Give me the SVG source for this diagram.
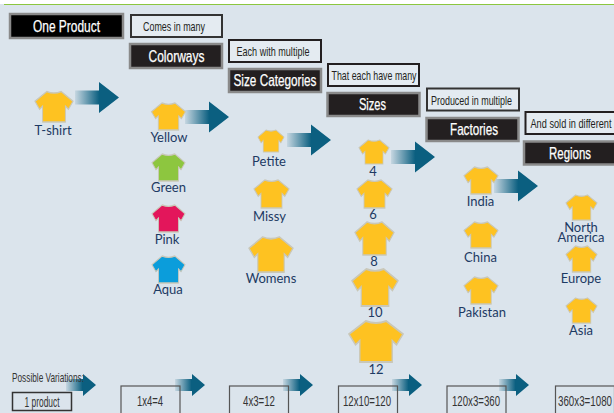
<svg xmlns="http://www.w3.org/2000/svg" width="614" height="413" viewBox="0 0 614 413">
<style>
.hd{fill:#231f20;stroke:#8a8a8a;stroke-width:2.5}
.sb{fill:#e4ebf1;stroke:#231f20;stroke-width:2}
.vb{fill:none;stroke:#555;stroke-width:1.2}
.pb{fill:none;stroke:#333;stroke-width:1.5}
.ht{font:16.500px "Liberation Sans",Arial,sans-serif;fill:#fff;stroke:#fff;stroke-width:.25;text-anchor:middle}
.st{font:13.500px "Liberation Sans",Arial,sans-serif;fill:#231f20;text-anchor:middle}
.vt{font:14px "Liberation Sans",Arial,sans-serif;fill:#333;text-anchor:middle}
.lb{font:13px Lato,"Noto Sans",Arial,sans-serif;fill:#1d3a63;text-anchor:middle}
.y{fill:#fec221}.g{fill:#8dc63f}.p{fill:#e3165b}.a{fill:#0b9ddb}
.tee{stroke:#c9c7b8;stroke-width:.05}
</style>
<defs>
<linearGradient id="fade"><stop offset="0" stop-color="#0b5f80" stop-opacity=".1"/><stop offset=".55" stop-color="#0b5f80"/></linearGradient>
<path id="t" d="M-.38,0Q0,.1.38,0L1,.32.76,.58.6,.48.6,1-.6,1-.6,.48-.76,.58-1,.32Z"/>
<path id="ar" d="M0,-7H24V-15.500L44,0 24,15.500V7H0Z"/>
<path id="as" d="M0,-6H17V-11L30,0 17,11V6H0Z"/>
</defs>
<rect width="614" height="413" fill="#dbe4ec"/>
<rect width="614" height="4" fill="#fff"/>
<rect x="4" y="4" width="610" height="1" fill="#8cc63f"/>

<g id="header-one-product"><rect class="hd" x="10" y="14" width="113" height="24" style="fill:#000"/><text class="ht" x="66.500" y="31.500" textLength="67" lengthAdjust="spacingAndGlyphs">One Product</text></g>
<g id="note-colorways"><rect class="sb" x="131" y="15" width="91" height="22" style="stroke:#333"/><text class="st" x="174" y="31" textLength="62" lengthAdjust="spacingAndGlyphs">Comes in many</text></g>
<g id="header-colorways"><rect class="hd" x="130" y="44" width="92" height="24"/><text class="ht" x="176.500" y="61.500" textLength="56" lengthAdjust="spacingAndGlyphs">Colorways</text></g>
<g id="note-sizes"><rect class="sb" x="229" y="40" width="92" height="22"/><text class="st" x="273" y="55.500" textLength="73" lengthAdjust="spacingAndGlyphs">Each with multiple</text></g>
<g id="header-size-categories"><rect class="hd" x="229" y="69" width="92" height="23"/><text class="ht" x="275" y="86" textLength="83" lengthAdjust="spacingAndGlyphs">Size Categories</text></g>
<g id="note-each"><rect class="sb" x="328" y="64" width="91" height="22"/><text class="st" x="374" y="80" textLength="85" lengthAdjust="spacingAndGlyphs">That each have many</text></g>
<g id="header-sizes"><rect class="hd" x="327.500" y="93" width="92" height="23"/><text class="ht" x="372.500" y="110" textLength="27" lengthAdjust="spacingAndGlyphs">Sizes</text></g>
<g id="note-produced"><rect class="sb" x="427" y="88.500" width="92" height="22" style="stroke:#333"/><text class="st" x="471.500" y="104.500" textLength="81" lengthAdjust="spacingAndGlyphs">Produced in multiple</text></g>
<g id="header-factories"><rect class="hd" x="426.500" y="118" width="92" height="23"/><text class="ht" x="474" y="134.500" textLength="48" lengthAdjust="spacingAndGlyphs">Factories</text></g>
<g id="note-sold"><rect class="sb" x="525.500" y="112" width="92" height="22"/><text class="st" x="571" y="128" textLength="81" lengthAdjust="spacingAndGlyphs">And sold in different</text></g>
<g id="header-regions"><rect class="hd" x="524" y="141.500" width="95" height="23"/><text class="ht" x="570" y="158.500" textLength="42" lengthAdjust="spacingAndGlyphs">Regions</text></g>

<g id="connectors" fill="url(#fade)">
<use href="#ar" x="75" y="97.500"/>
<use href="#ar" x="185" y="117"/>
<use href="#ar" x="287" y="140"/>
<use href="#ar" x="391" y="157"/>
<use href="#ar" x="494" y="186"/>
<use href="#as" x="66" y="385"/>
<use href="#as" x="175" y="385"/>
<use href="#as" x="283" y="385"/>
<use href="#as" x="392" y="385"/>
<use href="#as" x="499" y="385"/>
</g>

<g id="tshirt"><use href="#t" class="tee y" transform="translate(54,91.500) scale(19,30.500)"/><text class="lb" x="53" y="135">T-shirt</text></g>
<g id="yellow"><use href="#t" class="tee y" transform="translate(168.500,103) scale(17,27)"/><text class="lb" x="169" y="142">Yellow</text></g>
<g id="green"><use href="#t" class="tee g" transform="translate(168.500,154) scale(16.500,27)"/><text class="lb" x="168.500" y="192">Green</text></g>
<g id="pink"><use href="#t" class="tee p" transform="translate(168.500,205) scale(16.500,27)"/><text class="lb" x="167" y="244">Pink</text></g>
<g id="aqua"><use href="#t" class="tee a" transform="translate(168.500,256) scale(16.500,27)"/><text class="lb" x="168" y="294">Aqua</text></g>
<g id="petite"><use href="#t" class="tee y" transform="translate(271,130) scale(13,22)"/><text class="lb" x="269" y="166">Petite</text></g>
<g id="missy"><use href="#t" class="tee y" transform="translate(271.500,180) scale(17.500,28)"/><text class="lb" x="269.500" y="221">Missy</text></g>
<g id="womens"><use href="#t" class="tee y" transform="translate(271,237) scale(22,35)"/><text class="lb" x="271" y="283">Womens</text></g>
<g id="size4"><use href="#t" class="tee y" transform="translate(374,140) scale(15,24)"/><text class="lb" x="373" y="176">4</text></g>
<g id="size6"><use href="#t" class="tee y" transform="translate(374.500,180) scale(17.500,28)"/><text class="lb" x="373" y="219">6</text></g>
<g id="size8"><use href="#t" class="tee y" transform="translate(374.500,222) scale(19.500,33)"/><text class="lb" x="374" y="266">8</text></g>
<g id="size10"><use href="#t" class="tee y" transform="translate(375,269) scale(23,37)"/><text class="lb" x="375" y="317">10</text></g>
<g id="size12"><use href="#t" class="tee y" transform="translate(376,321) scale(27,41)"/><text class="lb" x="376" y="374">12</text></g>
<g id="india"><use href="#t" class="tee y" transform="translate(481,167) scale(17,27)"/><text class="lb" x="480.500" y="206">India</text></g>
<g id="china"><use href="#t" class="tee y" transform="translate(481,222) scale(17,26)"/><text class="lb" x="480.500" y="262">China</text></g>
<g id="pakistan"><use href="#t" class="tee y" transform="translate(481,277) scale(17,27)"/><text class="lb" x="482" y="317">Pakistan</text></g>
<g id="north-america"><use href="#t" class="tee y" transform="translate(581.500,195) scale(15.500,25)"/><text class="lb" y="232"><tspan x="581">North</tspan><tspan x="581" y="242">America</tspan></text></g>
<g id="europe"><use href="#t" class="tee y" transform="translate(581.500,246) scale(15.500,26)"/><text class="lb" x="581" y="283">Europe</text></g>
<g id="asia"><use href="#t" class="tee y" transform="translate(581.500,298) scale(15.500,25)"/><text class="lb" x="581" y="335">Asia</text></g>

<g id="variations-label"><text class="st" x="12" y="382" style="text-anchor:start;fill:#333" textLength="72" lengthAdjust="spacingAndGlyphs">Possible Variations:</text></g>
<g id="var-1"><rect class="pb" x="12.500" y="392.500" width="59" height="18"/><text class="vt" x="42" y="407" textLength="35" lengthAdjust="spacingAndGlyphs">1 product</text></g>
<g id="var-2"><rect class="vb" x="121" y="386" width="59" height="40"/><text class="vt" x="150" y="406" textLength="26" lengthAdjust="spacingAndGlyphs">1x4=4</text></g>
<g id="var-3"><rect class="vb" x="229.500" y="386" width="59" height="40"/><text class="vt" x="259" y="406" textLength="32" lengthAdjust="spacingAndGlyphs">4x3=12</text></g>
<g id="var-4"><rect class="vb" x="338.500" y="386" width="59" height="40"/><text class="vt" x="367" y="406" textLength="48" lengthAdjust="spacingAndGlyphs">12x10=120</text></g>
<g id="var-5"><rect class="vb" x="447" y="386" width="59" height="40"/><text class="vt" x="476" y="406" textLength="48" lengthAdjust="spacingAndGlyphs">120x3=360</text></g>
<g id="var-6"><rect class="vb" x="555.500" y="386" width="59" height="40"/><text class="vt" x="585" y="406" textLength="54" lengthAdjust="spacingAndGlyphs">360x3=1080</text></g>
</svg>
